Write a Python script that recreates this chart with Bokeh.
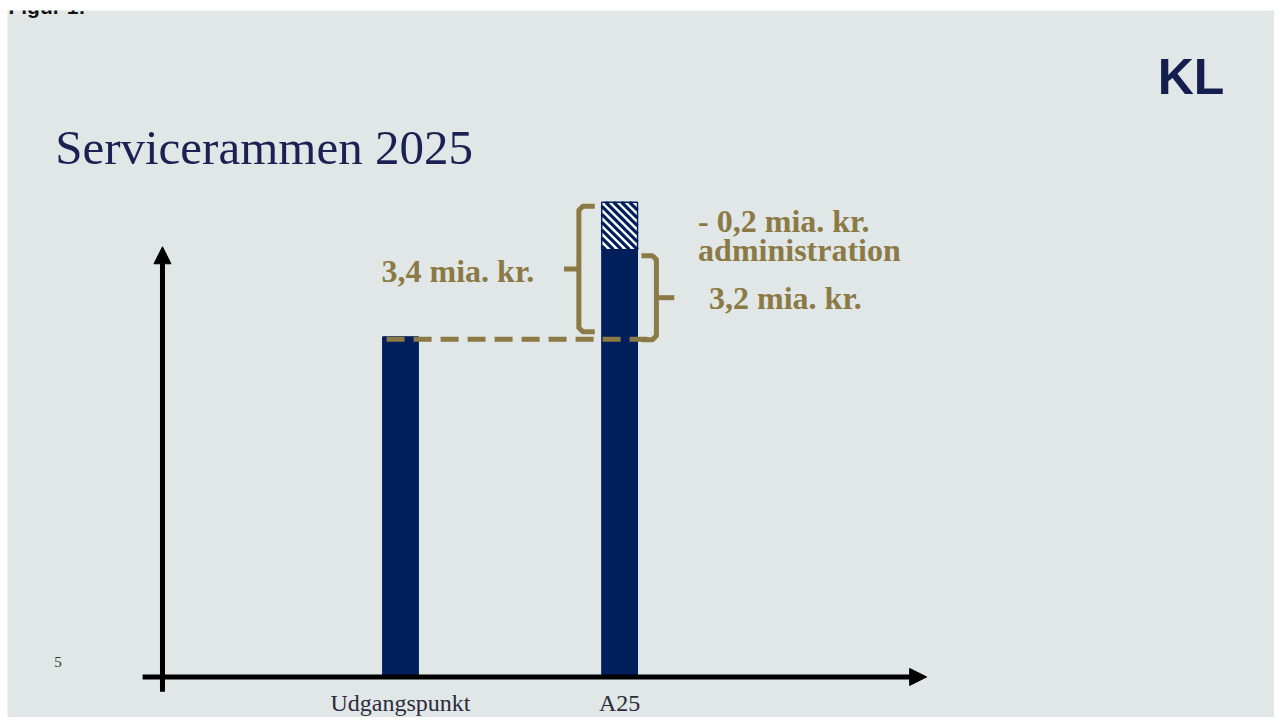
from bokeh.plotting import figure
from bokeh.models import Range1d, Label, Arrow, NormalHead
from bokeh.embed import file_html
from bokeh.resources import INLINE

# ---------------- data ----------------
categories = ["Udgangspunkt", "A25"]
solid_level = [8.6, 10.8]      # schematic bar heights (solid part)
admin_part = [0.0, 1.2]        # schematic hatched administration part
total_label = "3,4 mia. kr."
net_label = "3,2 mia. kr."
admin_label = ["- 0,2 mia. kr.", "administration"]
title_text = "Servicerammen 2025"
logo_text = "KL"
page_no = "5"
caption_text = "Figur 1:"

# ---------------- styles ----------------
BG = "#E1E7E7"
NAVY = "#001F5B"
GOLD = "#8B7A45"
TITLE = "#1B2152"
SERIF = "Liberation Serif"

W, H = 1274, 717
SX, SY = W / 1282, H / 725
PX_X = 220.5     # pixels per category step
PX_Y = 40.0      # pixels per value unit
X0_IMG = 402.5   # x of first category
Y0_IMG = 684.0   # y of baseline
BASE_SHIFT = 0.3  # text baseline compensation (fraction of font size)


def X(px):
    return (px - X0_IMG) / PX_X


def Y(py):
    return (Y0_IMG - py) / PX_Y


def TY(baseline, fs):
    return Y(baseline - BASE_SHIFT * fs)


p = figure(width=W, height=H,
           x_range=Range1d(X(7 / SX), X(1282)), y_range=Range1d(Y(725), Y(10 / SY)),
           toolbar_location=None, output_backend="svg",
           x_axis_type=None, y_axis_type=None,
           min_border_left=7, min_border_right=0, min_border_bottom=0, min_border_top=10,
           background_fill_color=BG, border_fill_color="white", outline_line_color=None)
p.grid.visible = False

xs = list(range(len(categories)))
BAR_PX = 36
bar_w = BAR_PX / PX_X

# solid bars
p.vbar(x=xs, top=solid_level, bottom=0, width=bar_w, fill_color=NAVY, line_color=NAVY)

# hatched administration part (white box with navy diagonal stripes)
hx = [x for x, a in zip(xs, admin_part) if a > 0]
hb = [s for s, a in zip(solid_level, admin_part) if a > 0]
ht = [s + a for s, a in zip(solid_level, admin_part) if a > 0]
p.vbar(x=hx, bottom=hb, top=ht, width=bar_w, fill_color="white", line_color=None)

PERIOD = 8
sx0, sy0, sx1, sy1 = [], [], [], []
for x, b, t in zip(hx, hb, ht):
    cx = X0_IMG + x * PX_X
    xl, xr = cx - BAR_PX / 2, cx + BAR_PX / 2
    yt, yb = Y0_IMG - t * PX_Y, Y0_IMG - b * PX_Y
    c = yt - xr
    while c <= yb - xl:
        a1 = max(xl, yt - c)
        a2 = min(xr, yb - c)
        if a2 > a1:
            sx0.append(X(a1)); sy0.append(Y(a1 + c))
            sx1.append(X(a2)); sy1.append(Y(a2 + c))
        c += PERIOD
p.segment(x0=sx0, y0=sy0, x1=sx1, y1=sy1, line_color=NAVY, line_width=3.2)
p.vbar(x=hx, bottom=hb, top=ht, width=bar_w, fill_color=None, line_color=NAVY, line_width=1.5)

# axes arrows
p.add_layout(Arrow(end=NormalHead(size=17, fill_color="black", line_color="black"),
                   x_start=X(143), y_start=Y(684), x_end=X(932), y_end=Y(684),
                   line_width=5, line_color="black"))
p.add_layout(Arrow(end=NormalHead(size=17, fill_color="black", line_color="black"),
                   x_start=X(163), y_start=Y(699), x_end=X(163), y_end=Y(249),
                   line_width=5, line_color="black"))

# category labels
for i, c in enumerate(categories):
    p.add_layout(Label(x=i, y=TY(718, 24), text=c, text_align="center", text_baseline="alphabetic",
                       text_font=SERIF, text_font_size="24px", text_color="#2B2B3B"))

# dashed reference line from Udgangspunkt level
lvl0 = solid_level[0]
top_total = solid_level[1] + admin_part[1]
top_net = solid_level[1]
dpx = 1 / PX_X
dpy = 1 / PX_Y
p.line(x=[0 - 14 * dpx, 1 + 37 * dpx], y=[lvl0 - 2.5 * dpy] * 2,
       line_color=GOLD, line_width=5, line_dash="18 9")


def brace(xv, xh, ytop, ybot, xtick):
    r = 4
    s = 1 if xh > xv else -1
    ymid = (ytop + ybot) / 2
    path_x = [xh, xv + s * r * dpx, xv, xv, xv + s * r * dpx, xh]
    path_y = [ytop, ytop, ytop - r * dpy, ybot + r * dpy, ybot, ybot]
    p.line(x=path_x, y=path_y, line_color=GOLD, line_width=5, line_join="round")
    p.line(x=[xv, xtick], y=[ymid, ymid], line_color=GOLD, line_width=5)
    return ymid


# left brace: total increase 3,4
brace(1 - 41 * dpx, 1 - 25 * dpx, top_total - 4 * dpy, lvl0 + 5 * dpy, 1 - 56 * dpx)
# right brace: net 3,2
brace(1 + 37 * dpx, 1 + 22 * dpx, top_net - 6 * dpy, lvl0 - 3 * dpy, 1 + 55 * dpx)

FS = 32
txt = dict(text_font=SERIF, text_font_style="bold", text_font_size=f"{FS}px",
           text_color=GOLD, text_baseline="alphabetic")
p.add_layout(Label(x=X(537), y=TY(283, FS), text=total_label, text_align="right", **txt))
p.add_layout(Label(x=X(702), y=TY(233, FS), text=admin_label[0], text_align="left", **txt))
p.add_layout(Label(x=X(702), y=TY(262, FS), text=admin_label[1], text_align="left", **txt))
p.add_layout(Label(x=X(713), y=TY(310, FS), text=net_label, text_align="left", **txt))

# title, logo, page number, caption
p.add_layout(Label(x=X(55), y=TY(163, 49), text=title_text, text_align="left", text_baseline="alphabetic",
                   text_font=SERIF, text_font_size="49px", text_color=TITLE))
p.add_layout(Label(x=X(1198), y=TY(92, 50), text=logo_text, text_align="center", text_baseline="alphabetic",
                   text_font="Liberation Sans", text_font_style="bold", text_font_size="50px",
                   text_color="#141F4F"))
p.add_layout(Label(x=X(54), y=TY(673, 15), text=page_no, text_align="left", text_baseline="alphabetic",
                   text_font=SERIF, text_font_size="15px", text_color="#333333"))
p.add_layout(Label(x=X(8), y=Y(6), text=caption_text, text_align="left", text_baseline="alphabetic",
                   text_font="Liberation Sans", text_font_style="bold", text_font_size="21px",
                   text_color="#111111"))

open("out.html", "w").write(file_html(p, INLINE))
